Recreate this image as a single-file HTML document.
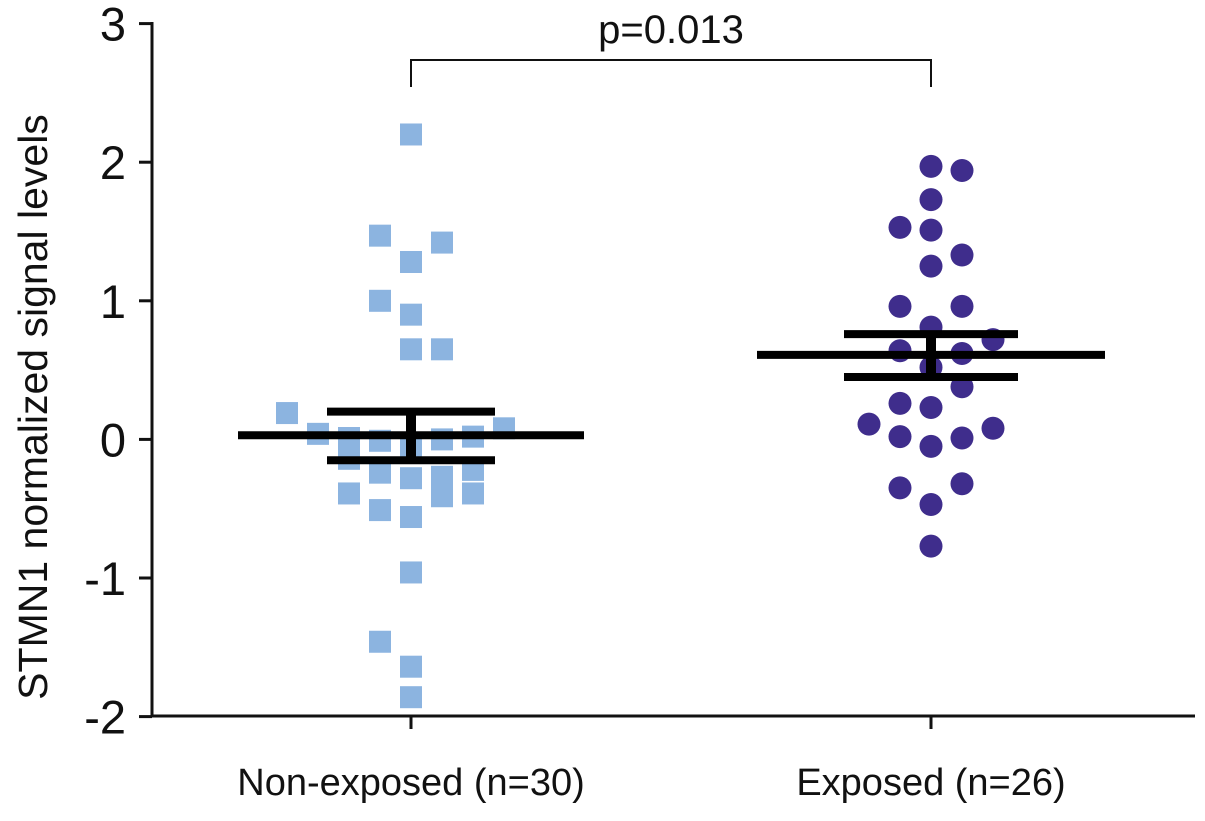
<!DOCTYPE html>
<html><head><meta charset="utf-8"><style>
body{margin:0;background:#fff}
svg text{font-family:"Liberation Sans",Arial,sans-serif;fill:#111}
</style></head><body>
<svg id="chart" width="1205" height="816" viewBox="0 0 1205 816"></svg>
<script>
const categories = ["Non-exposed (n=30)", "Exposed (n=26)"];
const yTicks = [3, 2, 1, 0, -1, -2];
const nonExposedValues = [2.2,1.47,1.42,1.28,1.0,0.9,0.65,0.65,0.19,0.04,0.01,-0.14,-0.01,-0.24,-0.05,-0.28,-0.56,0.0,-0.27,-0.41,0.02,-0.22,-0.39,0.08,-0.39,-0.51,-0.96,-1.46,-1.64,-1.86];
const nonExposedCols = [0,-1,1,0,-1,0,0,1,-4,-3,-2,-2,-1,-1,0,0,0,1,1,1,2,2,2,3,-2,-1,0,-1,0,0];
const exposedValues = [1.97,1.94,1.73,1.53,1.51,1.33,1.25,0.96,0.96,0.81,0.72,0.64,0.62,0.52,0.38,0.26,0.23,0.11,0.02,-0.05,0.01,0.08,-0.35,-0.32,-0.47,-0.77];
const exposedCols = [0,1,0,-1,0,1,0,-1,1,0,2,-1,1,0,1,-1,0,-2,-1,0,1,2,-1,1,0,0];
const means = [0.03, 0.61];
const semUpper = [0.2, 0.76];
const semLower = [-0.15, 0.45];
const pLabel = "p=0.013";

const svg = document.getElementById('chart');
const NS = 'http://www.w3.org/2000/svg';
const y = v => 439.4 - v * 138.6;
const xc = i => [411, 931][i];
const colStep = 31;
function mk(tag, attrs, parent) {
  const e = document.createElementNS(NS, tag);
  for (const k in attrs) e.setAttribute(k, attrs[k]);
  (parent || svg).appendChild(e);
  return e;
}
const yAxis = mk('line', {x1:152, y1:22, x2:152, y2:717, stroke:'#111', 'stroke-width':3});


const xAxis = mk('line', {x1:151, y1:716, x2:1195, y2:716, stroke:'#111', 'stroke-width':3});


yTicks.forEach(t => {
  mk('line', {x1:139, y1:y(t), x2:152, y2:y(t), stroke:'#111', 'stroke-width':3});
  const tx = mk('text', {x:126, y:y(t)+17, 'text-anchor':'end', 'font-size':47});
  tx.textContent = t;
  
  
});
categories.forEach((c, i) => {
  mk('line', {x1:xc(i), y1:716, x2:xc(i), y2:729, stroke:'#111', 'stroke-width':3});
  const tx = mk('text', {x:xc(i), y:795, 'text-anchor':'middle', 'font-size':38});
  tx.textContent = c;
  
  
});
const yt = mk('text', {x:0, y:0, 'text-anchor':'middle', 'font-size':41, transform:'translate(47,407) rotate(-90)'});
yt.textContent = 'STMN1 normalized signal levels';


nonExposedValues.forEach((v, k) => {
  const r = mk('rect', {x:xc(0)+nonExposedCols[k]*colStep-11, y:y(v)-11, width:22, height:22, fill:'#8cb4e0'});
  
  
});
exposedValues.forEach((v, k) => {
  const c = mk('circle', {cx:xc(1)+exposedCols[k]*colStep, cy:y(v), r:11.5, fill:'#3f2d8c'});
  
  
});
const meanHalf = [173, 174], capHalf = [84, 87];
means.forEach((m, i) => {
  const g = mk('g', {});
  
  
  mk('line', {x1:xc(i)-meanHalf[i], y1:y(m), x2:xc(i)+meanHalf[i], y2:y(m), stroke:'#000', 'stroke-width':8}, g);
  mk('line', {x1:xc(i)-capHalf[i], y1:y(semUpper[i]), x2:xc(i)+capHalf[i], y2:y(semUpper[i]), stroke:'#000', 'stroke-width':8}, g);
  mk('line', {x1:xc(i)-capHalf[i], y1:y(semLower[i]), x2:xc(i)+capHalf[i], y2:y(semLower[i]), stroke:'#000', 'stroke-width':8}, g);
  mk('line', {x1:xc(i), y1:y(semUpper[i]), x2:xc(i), y2:y(semLower[i]), stroke:'#000', 'stroke-width':10}, g);
});
const br = mk('path', {d:`M${xc(0)},87 V60 H${xc(1)} V87`, fill:'none', stroke:'#111', 'stroke-width':2});


const pt = mk('text', {x:(xc(0)+xc(1))/2, y:43, 'text-anchor':'middle', 'font-size':40});
pt.textContent = pLabel;


</script>
</body></html>
